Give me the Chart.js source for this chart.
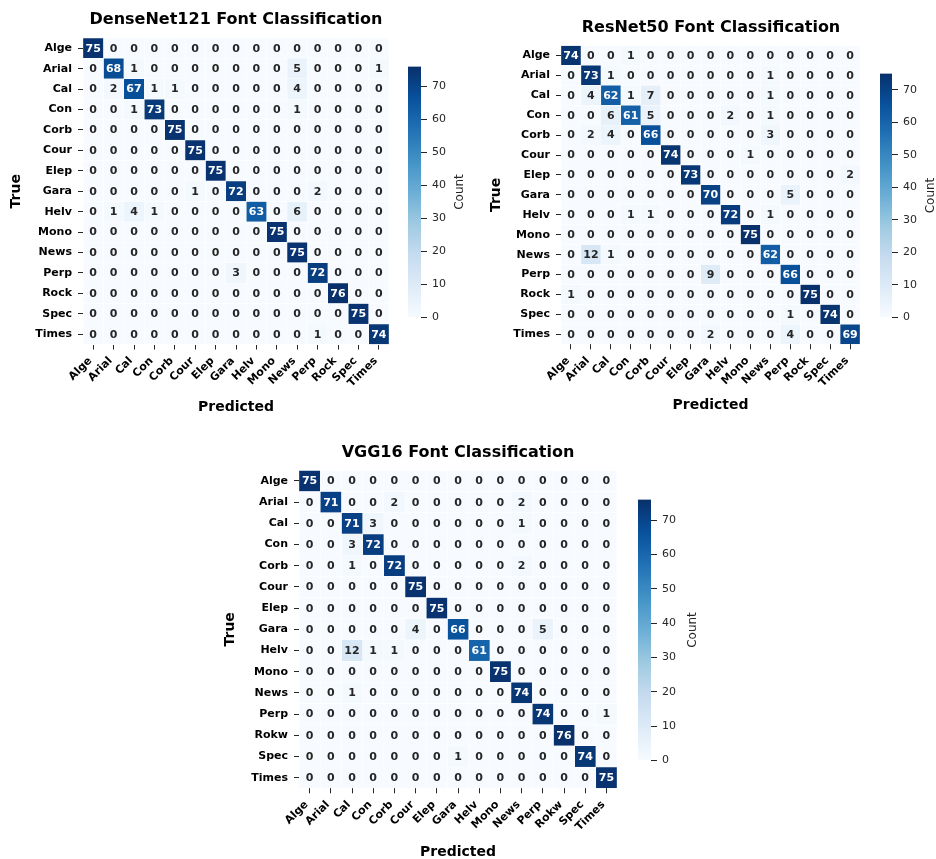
<!DOCTYPE html>
<html>
<head>
<meta charset="utf-8">
<script src="https://cdn.jsdelivr.net/npm/chart.js@4.4.1/dist/chart.umd.min.js"></script>
<style>
  html, body { margin: 0; padding: 0; background: #fff; overflow: hidden; }
  body { width: 936px; height: 859px; position: relative; }
  canvas { position: absolute; }
</style>
</head>
<body>
<canvas id="denseHeat"></canvas>
<canvas id="denseBar"></canvas>
<canvas id="resHeat"></canvas>
<canvas id="resBar"></canvas>
<canvas id="vggHeat"></canvas>
<canvas id="vggBar"></canvas>
<script>
// class names on both axes
const fontLabels = ['Alge', 'Arial', 'Cal', 'Con', 'Corb', 'Cour', 'Elep', 'Gara', 'Helv', 'Mono', 'News', 'Perp', 'Rock', 'Spec', 'Times'];
const vggLabels  = ['Alge', 'Arial', 'Cal', 'Con', 'Corb', 'Cour', 'Elep', 'Gara', 'Helv', 'Mono', 'News', 'Perp', 'Rokw', 'Spec', 'Times'];

// confusion matrices, rows = true, cols = predicted
const denseNet = [
  [75, 0, 0, 0, 0, 0, 0, 0, 0, 0, 0, 0, 0, 0, 0],
  [0, 68, 1, 0, 0, 0, 0, 0, 0, 0, 5, 0, 0, 0, 1],
  [0, 2, 67, 1, 1, 0, 0, 0, 0, 0, 4, 0, 0, 0, 0],
  [0, 0, 1, 73, 0, 0, 0, 0, 0, 0, 1, 0, 0, 0, 0],
  [0, 0, 0, 0, 75, 0, 0, 0, 0, 0, 0, 0, 0, 0, 0],
  [0, 0, 0, 0, 0, 75, 0, 0, 0, 0, 0, 0, 0, 0, 0],
  [0, 0, 0, 0, 0, 0, 75, 0, 0, 0, 0, 0, 0, 0, 0],
  [0, 0, 0, 0, 0, 1, 0, 72, 0, 0, 0, 2, 0, 0, 0],
  [0, 1, 4, 1, 0, 0, 0, 0, 63, 0, 6, 0, 0, 0, 0],
  [0, 0, 0, 0, 0, 0, 0, 0, 0, 75, 0, 0, 0, 0, 0],
  [0, 0, 0, 0, 0, 0, 0, 0, 0, 0, 75, 0, 0, 0, 0],
  [0, 0, 0, 0, 0, 0, 0, 3, 0, 0, 0, 72, 0, 0, 0],
  [0, 0, 0, 0, 0, 0, 0, 0, 0, 0, 0, 0, 76, 0, 0],
  [0, 0, 0, 0, 0, 0, 0, 0, 0, 0, 0, 0, 0, 75, 0],
  [0, 0, 0, 0, 0, 0, 0, 0, 0, 0, 0, 1, 0, 0, 74]
];
const resNet = [
  [74, 0, 0, 1, 0, 0, 0, 0, 0, 0, 0, 0, 0, 0, 0],
  [0, 73, 1, 0, 0, 0, 0, 0, 0, 0, 1, 0, 0, 0, 0],
  [0, 4, 62, 1, 7, 0, 0, 0, 0, 0, 1, 0, 0, 0, 0],
  [0, 0, 6, 61, 5, 0, 0, 0, 2, 0, 1, 0, 0, 0, 0],
  [0, 2, 4, 0, 66, 0, 0, 0, 0, 0, 3, 0, 0, 0, 0],
  [0, 0, 0, 0, 0, 74, 0, 0, 0, 1, 0, 0, 0, 0, 0],
  [0, 0, 0, 0, 0, 0, 73, 0, 0, 0, 0, 0, 0, 0, 2],
  [0, 0, 0, 0, 0, 0, 0, 70, 0, 0, 0, 5, 0, 0, 0],
  [0, 0, 0, 1, 1, 0, 0, 0, 72, 0, 1, 0, 0, 0, 0],
  [0, 0, 0, 0, 0, 0, 0, 0, 0, 75, 0, 0, 0, 0, 0],
  [0, 12, 1, 0, 0, 0, 0, 0, 0, 0, 62, 0, 0, 0, 0],
  [0, 0, 0, 0, 0, 0, 0, 9, 0, 0, 0, 66, 0, 0, 0],
  [1, 0, 0, 0, 0, 0, 0, 0, 0, 0, 0, 0, 75, 0, 0],
  [0, 0, 0, 0, 0, 0, 0, 0, 0, 0, 0, 1, 0, 74, 0],
  [0, 0, 0, 0, 0, 0, 0, 2, 0, 0, 0, 4, 0, 0, 69]
];
const vgg16 = [
  [75, 0, 0, 0, 0, 0, 0, 0, 0, 0, 0, 0, 0, 0, 0],
  [0, 71, 0, 0, 2, 0, 0, 0, 0, 0, 2, 0, 0, 0, 0],
  [0, 0, 71, 3, 0, 0, 0, 0, 0, 0, 1, 0, 0, 0, 0],
  [0, 0, 3, 72, 0, 0, 0, 0, 0, 0, 0, 0, 0, 0, 0],
  [0, 0, 1, 0, 72, 0, 0, 0, 0, 0, 2, 0, 0, 0, 0],
  [0, 0, 0, 0, 0, 75, 0, 0, 0, 0, 0, 0, 0, 0, 0],
  [0, 0, 0, 0, 0, 0, 75, 0, 0, 0, 0, 0, 0, 0, 0],
  [0, 0, 0, 0, 0, 4, 0, 66, 0, 0, 0, 5, 0, 0, 0],
  [0, 0, 12, 1, 1, 0, 0, 0, 61, 0, 0, 0, 0, 0, 0],
  [0, 0, 0, 0, 0, 0, 0, 0, 0, 75, 0, 0, 0, 0, 0],
  [0, 0, 1, 0, 0, 0, 0, 0, 0, 0, 74, 0, 0, 0, 0],
  [0, 0, 0, 0, 0, 0, 0, 0, 0, 0, 0, 74, 0, 0, 1],
  [0, 0, 0, 0, 0, 0, 0, 0, 0, 0, 0, 0, 76, 0, 0],
  [0, 0, 0, 0, 0, 0, 0, 1, 0, 0, 0, 0, 0, 74, 0],
  [0, 0, 0, 0, 0, 0, 0, 0, 0, 0, 0, 0, 0, 0, 75]
];

const countTicks = [0, 10, 20, 30, 40, 50, 60, 70];

Chart.defaults.font.family = "'DejaVu Sans', sans-serif";

// matplotlib "Blues"
const bluesHex = ['#f7fbff', '#deebf7', '#c6dbef', '#9ecae1', '#6baed6', '#4292c6', '#2171b5', '#08519c', '#08306b'];
const blues = bluesHex.map(h => [1, 3, 5].map(k => parseInt(h.slice(k, k + 2), 16)));

function bluesAt(t) {
  t = Math.max(0, Math.min(1, t));
  const p = t * (blues.length - 1);
  const i = Math.min(Math.floor(p), blues.length - 2);
  const f = p - i;
  return blues[i].map((c, k) => Math.round(c + (blues[i + 1][k] - c) * f));
}
const rgb = c => `rgb(${c[0]},${c[1]},${c[2]})`;

function luminance(c) {
  const l = c.map(v => {
    v /= 255;
    return v <= 0.03928 ? v / 12.92 : Math.pow((v + 0.055) / 1.055, 2.4);
  });
  return 0.2126 * l[0] + 0.7152 * l[1] + 0.0722 * l[2];
}

function place(cv, x, y, w, h) {
  cv.width = w; cv.height = h;
  cv.style.left = x + 'px';
  cv.style.top = y + 'px';
}

function cellText(matrix, vmax) {
  return {
    id: 'cellText',
    afterDatasetsDraw(chart) {
      const ctx = chart.ctx;
      ctx.save();
      ctx.font = "bold 11px 'DejaVu Sans'";
      ctx.textAlign = 'center';
      ctx.textBaseline = 'middle';
      chart.data.datasets.forEach((ds, j) => {
        chart.getDatasetMeta(j).data.forEach((bar, i) => {
          const v = matrix[i][j];
          ctx.fillStyle = luminance(bluesAt(v / vmax)) > 0.408 ? '#262626' : '#ffffff';
          ctx.fillText(String(v), (bar.x + bar.base) / 2, bar.y + 0.5);
        });
      });
      ctx.restore();
    }
  };
}

function heatmap(id, title, labels, matrix, vmax, g) {
  const cv = document.getElementById(id);
  place(cv, g.x, g.y, g.w, g.h);
  const titlePadTop = g.titleY - g.y - 9.6;
  const titlePadBottom = g.ay0 - g.y - 19.2 - titlePadTop;

  const datasets = labels.map((_, j) => ({
    data: labels.map(() => [j - 0.5, j + 0.5]),
    backgroundColor: matrix.map(row => rgb(bluesAt(row[j] / vmax))),
    borderColor: '#ffffff',
    borderWidth: 0.5,
    borderSkipped: false,
    grouped: false,
    barPercentage: 1,
    categoryPercentage: 1
  }));

  new Chart(cv, {
    type: 'bar',
    data: { labels: labels, datasets: datasets },
    options: {
      indexAxis: 'y',
      responsive: false,
      animation: false,
      layout: { padding: 0 },
      plugins: {
        legend: { display: false },
        tooltip: { enabled: false },
        title: {
          display: true,
          text: title,
          color: '#000',
          font: { size: 16, weight: 'bold' },
          padding: { top: titlePadTop, bottom: titlePadBottom }
        }
      },
      scales: {
        y: {
          type: 'category',
          offset: true,
          grid: { offset: false, drawOnChartArea: false, tickLength: 5, color: '#262626' },
          border: { display: false },
          ticks: { padding: 6, color: '#000', font: { size: 11, weight: 'bold' } },
          title: {
            display: true, text: 'True', color: '#000',
            font: { size: 14, weight: 'bold' },
            padding: { top: g.trueX - g.x - 8.4, bottom: 0 }
          },
          afterFit: s => { s.width = g.ax0 - g.x; }
        },
        yRight: {
          type: 'linear',
          position: 'right',
          grid: { display: false },
          border: { display: false },
          ticks: { display: false },
          afterFit: s => { s.width = g.x + g.w - g.ax1; }
        },
        x: {
          type: 'linear',
          min: -0.5,
          max: labels.length - 0.5,
          afterBuildTicks: s => { s.ticks = labels.map((_, i) => ({ value: i })); },
          grid: { drawOnChartArea: false, tickLength: 5, color: '#262626' },
          border: { display: false },
          ticks: {
            autoSkip: false, minRotation: 45, maxRotation: 45, padding: 5, labelOffset: -3,
            color: '#000', font: { size: 11, weight: 'bold' },
            callback: v => labels[v]
          },
          title: {
            display: true, text: 'Predicted', color: '#000',
            font: { size: 14, weight: 'bold' },
            padding: { top: 0, bottom: g.y + g.h - g.predY - 8.4 }
          },
          afterFit: s => { s.height = g.y + g.h - g.ay1; }
        }
      }
    },
    plugins: [cellText(matrix, vmax)]
  });
}

function colorbar(id, vmax, g) {
  const cv = document.getElementById(id);
  const x = g.x0 - 8, y = g.y0 - 10;
  place(cv, x, y, g.w, g.y1 - g.y0 + 20);

  const countLabel = {
    id: 'countLabel',
    afterDraw(chart) {
      const ctx = chart.ctx;
      ctx.save();
      ctx.translate(g.countX - x, (g.y0 + g.y1) / 2 - y);
      ctx.rotate(-Math.PI / 2);
      ctx.font = "12px 'DejaVu Sans'";
      ctx.fillStyle = '#262626';
      ctx.textAlign = 'center';
      ctx.textBaseline = 'middle';
      ctx.fillText('Count', 0, 0);
      ctx.restore();
    }
  };

  new Chart(cv, {
    type: 'bar',
    data: {
      labels: [''],
      datasets: [{
        data: [[0, vmax]],
        backgroundColor: c => {
          const area = c.chart.chartArea;
          if (!area) return bluesHex[4];
          const gr = c.chart.ctx.createLinearGradient(0, area.bottom, 0, area.top);
          bluesHex.forEach((h, i) => gr.addColorStop(i / (bluesHex.length - 1), h));
          return gr;
        },
        borderWidth: 0,
        barPercentage: 1,
        categoryPercentage: 1
      }]
    },
    options: {
      responsive: false,
      animation: false,
      layout: { padding: { left: 8, top: 10, bottom: 10, right: 0 } },
      plugins: { legend: { display: false }, tooltip: { enabled: false } },
      scales: {
        x: { display: false },
        y: {
          position: 'right',
          min: 0,
          max: vmax,
          afterBuildTicks: s => { s.ticks = countTicks.map(v => ({ value: v })); },
          grid: { drawOnChartArea: false, tickLength: 6, color: '#262626' },
          border: { display: false },
          ticks: { padding: 5, color: '#262626', font: { size: 11 } },
          afterFit: s => { s.width = g.w - 8 - (g.x1 - g.x0); }
        }
      }
    },
    plugins: [countLabel]
  });
}

heatmap('denseHeat', 'DenseNet121 Font Classification', fontLabels, denseNet, 76,
  { x: 0, y: 0, w: 472, h: 420, ax0: 83, ax1: 389, ay0: 38, ay1: 344.5, titleY: 20, trueX: 16, predY: 407 });
colorbar('denseBar', 76, { x0: 408, x1: 421, y0: 65, y1: 319, w: 72, countX: 460 });

heatmap('resHeat', 'ResNet50 Font Classification', fontLabels, resNet, 75,
  { x: 486, y: 0, w: 450, h: 420, ax0: 561, ax1: 860, ay0: 45.5, ay1: 344.3, titleY: 28.3, trueX: 496, predY: 405 });
colorbar('resBar', 75, { x0: 880, x1: 892, y0: 72, y1: 319, w: 64, countX: 931 });

heatmap('vggHeat', 'VGG16 Font Classification', vggLabels, vgg16, 76,
  { x: 219, y: 430, w: 478, h: 440, ax0: 299, ax1: 617, ay0: 470.4, ay1: 788.3, titleY: 453, trueX: 230, predY: 852 });
colorbar('vggBar', 76, { x0: 638, x1: 651, y0: 498, y1: 762, w: 78, countX: 693 });
</script>
</body>
</html>
